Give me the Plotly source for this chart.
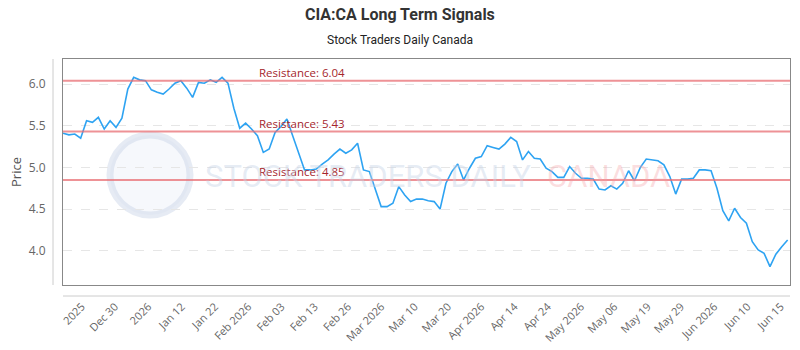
import plotly.graph_objects as go

title = "CIA:CA Long Term Signals"
subtitle = "Stock Traders Daily Canada"

prices = [
    5.41, 5.39, 5.40, 5.35, 5.56, 5.54, 5.60, 5.46, 5.56, 5.48,
    5.59, 5.94, 6.08, 6.05, 6.04, 5.93, 5.90, 5.88, 5.94, 6.01,
    6.04, 5.95, 5.84, 6.02, 6.01, 6.05, 6.02, 6.08, 6.01, 5.71,
    5.47, 5.53, 5.46, 5.38, 5.18, 5.22, 5.42, 5.49, 5.58, 5.37,
    5.17, 4.97, 4.97, 4.98, 5.04, 5.09, 5.16, 5.22, 5.17, 5.21,
    5.29, 4.97, 4.95, 4.75, 4.53, 4.53, 4.57, 4.77,
    4.67, 4.59, 4.62, 4.62, 4.60, 4.59, 4.50, 4.81, 4.95, 5.04,
    4.85, 4.99, 5.11, 5.13, 5.26, 5.24, 5.22, 5.28, 5.36, 5.31,
    5.09, 5.19, 5.11, 5.10, 4.99, 4.95, 4.88, 4.88, 5.01, 4.93,
    4.87, 4.87, 4.86, 4.74, 4.73, 4.78, 4.74, 4.81, 4.96, 4.84,
    5.00, 5.10, 5.09, 5.08, 5.03, 4.89, 4.68, 4.86, 4.86, 4.87,
    4.97, 4.97, 4.96, 4.75, 4.48, 4.36, 4.51, 4.40, 4.33, 4.11,
    4.01, 3.97, 3.81, 3.96, 4.05, 4.13,
]

resistance_levels = [6.04, 5.43, 4.85]

tick_labels = [
    "2025", "Dec 30", "2026", "Jan 12", "Jan 22", "Feb 2026", "Feb 03",
    "Feb 13", "Feb 26", "Mar 2026", "Mar 10", "Mar 20", "Apr 2026",
    "Apr 14", "Apr 24", "May 2026", "May 06", "May 19", "May 29",
    "Jun 2026", "Jun 10", "Jun 15",
]

x_idx = list(range(len(prices)))
tick_first = 3.2
tick_step = 5.65
tick_vals = [tick_first + tick_step * i for i in range(len(tick_labels))]

PL, PR, PT, PB = 63.0, 790.0, 59.0, 285.0
PW, PH = PR - PL, PB - PT


def px(x):
    return (x - PL) / PW


def py(y):
    return (PB - y) / PH


fig = go.Figure()

fig.add_trace(go.Scatter(
    x=x_idx, y=prices, mode="lines",
    line=dict(color="#2ea3f2", width=1.6),
    hoverinfo="y", showlegend=False,
))

for lvl in resistance_levels:
    fig.add_shape(type="line", xref="paper", x0=0, x1=1, yref="y", y0=lvl, y1=lvl,
                  line=dict(color="rgba(232,110,115,0.75)", width=2), layer="above")
    fig.add_annotation(xref="paper", x=px(257), yref="y", y=lvl, yshift=8,
                       xanchor="left", yanchor="middle", showarrow=False,
                       text=f"Resistance: {lvl:.2f}",
                       font=dict(family="Open Sans, sans-serif", size=11.5, color="#a5262d"))

# watermark
fig.add_shape(type="circle", xref="paper", yref="paper",
              x0=px(110), x1=px(190), y0=py(215), y1=py(135),
              line=dict(color="rgba(200,210,230,0.45)", width=7),
              fillcolor="rgba(225,232,245,0.3)", layer="below")
fig.add_annotation(xref="paper", yref="paper", x=px(203), y=py(176),
                   xanchor="left", yanchor="middle", showarrow=False,
                   text="STOCK TRADERS DAILY",
                   font=dict(family="Roboto, sans-serif", size=31, color="rgba(200,212,232,0.45)"))
fig.add_annotation(xref="paper", yref="paper", x=px(545), y=py(176),
                   xanchor="left", yanchor="middle", showarrow=False,
                   text="CANADA",
                   font=dict(family="Roboto, sans-serif", size=31, color="rgba(245,160,165,0.35)"))

# titles
fig.add_annotation(xref="paper", yref="paper", x=px(400), y=py(15),
                   xanchor="center", yanchor="middle", showarrow=False,
                   text=f"<b>{title}</b>",
                   font=dict(family="Roboto, sans-serif", size=16, color="#333333"))
fig.add_annotation(xref="paper", yref="paper", x=px(400), y=py(40),
                   xanchor="center", yanchor="middle", showarrow=False,
                   text=subtitle,
                   font=dict(family="Roboto, sans-serif", size=12, color="#222222"))

# extra axis lines (offset)
fig.add_shape(type="line", xref="paper", yref="paper", x0=px(53), x1=px(53),
              y0=0, y1=1, line=dict(color="#cccccc", width=1))
fig.add_shape(type="line", xref="paper", yref="paper", x0=0, x1=1,
              y0=py(296), y1=py(296), line=dict(color="#cccccc", width=1))

fig.update_layout(
    width=800, height=350,
    margin=dict(l=63, r=10, t=59, b=65, autoexpand=False),
    paper_bgcolor="white", plot_bgcolor="white",
    xaxis=dict(
        range=[0, 123.4], tickmode="array", tickvals=tick_vals, ticktext=tick_labels,
        tickangle=-45, showgrid=False, zeroline=False, automargin=False,
        showline=True, linecolor="#888888", linewidth=1, mirror=True,
        ticks="", ticklabelstandoff=10,
        tickfont=dict(family="Open Sans, sans-serif", size=11, color="#666666"),
    ),
    yaxis=dict(
        range=[3.59, 6.30], tickvals=[4.0, 4.5, 5.0, 5.5, 6.0],
        ticktext=["4.0", "4.5", "5.0", "5.5", "6.0"], automargin=False,
        showgrid=True, gridcolor="#e6e6e6", griddash="dash", zeroline=False,
        showline=True, linecolor="#888888", linewidth=1, mirror=True,
        ticks="", ticklabelstandoff=14,
        tickfont=dict(family="Open Sans, sans-serif", size=12, color="#666666"),
        title=dict(text="Price", standoff=4,
                   font=dict(family="Open Sans, sans-serif", size=13, color="#555555")),
    ),
)

fig.write_html("out.html")
